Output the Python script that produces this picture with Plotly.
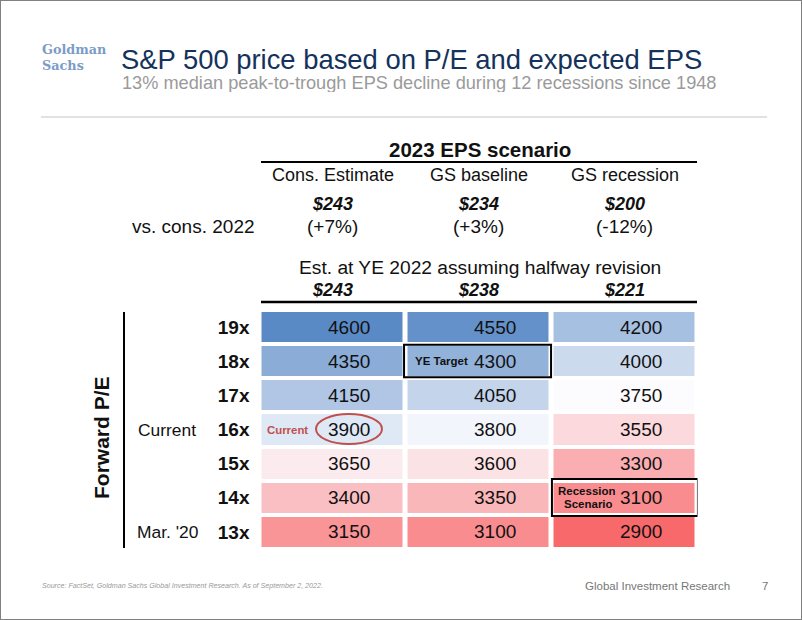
import plotly.graph_objects as go

# ---------------- data ----------------
pe_labels = ["19x", "18x", "17x", "16x", "15x", "14x", "13x"]
scenarios = ["Cons. Estimate", "GS baseline", "GS recession"]
eps_2023 = ["$243", "$234", "$200"]
vs_cons_2022 = ["(+7%)", "(+3%)", "(-12%)"]
eps_ye_2022 = ["$243", "$238", "$221"]
cons_estimate = [4600, 4350, 4150, 3900, 3650, 3400, 3150]
gs_baseline = [4550, 4300, 4050, 3800, 3600, 3350, 3100]
gs_recession = [4200, 4000, 3750, 3550, 3300, 3100, 2900]
side_labels = {"16x": "Current", "13x": "Mar. '20"}

W, H = 802, 620
FONT = "Arial, Liberation Sans, sans-serif"
LOGO_FONT = "DejaVu Serif, serif"


def px(x):
    return x / W


def py(y):
    return 1 - y / H


cols = [cons_estimate, gs_baseline, gs_recession]
z = [[c[i] for c in cols] for i in range(len(pe_labels))]
xs = list(range(len(scenarios)))
ys = list(range(len(pe_labels)))

fig = go.Figure()
fig.add_trace(go.Heatmap(
    z=z, x=xs, y=ys,
    colorscale=[[0, "#F8696B"], [0.5, "#FCFCFF"], [1, "#5A8AC6"]],
    zmin=min(min(c) for c in cols), zmax=max(max(c) for c in cols),
    xgap=5, ygap=4, showscale=False, hoverinfo="skip",
))

ann = []
# cell values
for i in ys:
    for j in xs:
        ann.append(dict(x=j, y=i, xref="x", yref="y", text=str(z[i][j]),
                        xshift=16,
                        font=dict(family=FONT, size=19, color="#111")))

# column headers
for j in xs:
    ann.append(dict(x=j, y=py(175), xref="x", text=scenarios[j],
                    font=dict(family=FONT, size=18, color="#111")))
    ann.append(dict(x=j, y=py(204), xref="x", text="<b><i>%s</i></b>" % eps_2023[j],
                    font=dict(family=FONT, size=18, color="#111")))
    ann.append(dict(x=j, y=py(226), xref="x", text=vs_cons_2022[j],
                    font=dict(family=FONT, size=19, color="#111")))
    ann.append(dict(x=j, y=py(290), xref="x", text="<b><i>%s</i></b>" % eps_ye_2022[j],
                    font=dict(family=FONT, size=18, color="#111")))

ann += [
    dict(x=px(480), y=py(149), text="<b>2023 EPS scenario</b>",
         font=dict(family=FONT, size=20.5, color="#111")),
    dict(x=px(257), y=py(226), xanchor="right", text="vs. cons. 2022",
         font=dict(family=FONT, size=19, color="#111")),
    dict(x=px(480), y=py(267), text="Est. at YE 2022 assuming halfway revision",
         font=dict(family=FONT, size=19.2, color="#111")),
    dict(x=px(101), y=py(438), text="<b>Forward P/E</b>", textangle=-90,
         font=dict(family=FONT, size=21, color="#111")),
    # title block
    dict(x=px(120), y=py(59.5), xanchor="left", height=29, borderpad=0,
         text="S&P 500 price based on P/E and expected EPS",
         font=dict(family=FONT, size=27.4, color="#14325c")),
    dict(x=px(121), y=py(83), xanchor="left", height=18, borderpad=0,
         text="13% median peak-to-trough EPS decline during 12 recessions since 1948",
         font=dict(family=FONT, size=18.2, color="#9a9a9a")),
    dict(x=px(41), y=py(49.8), xanchor="left", height=15, borderpad=0, text="<b>Goldman</b>",
         font=dict(family=LOGO_FONT, size=12.8, color="#7b9cc8")),
    dict(x=px(41), y=py(65.2), xanchor="left", height=15, borderpad=0, text="<b>Sachs</b>",
         font=dict(family=LOGO_FONT, size=12.8, color="#7b9cc8")),
    # footer
    dict(x=px(40), y=py(586), xanchor="left",
         text="<i>Source: FactSet, Goldman Sachs Global Investment Research. As of September 2, 2022.</i>",
         font=dict(family=FONT, size=7.1, color="#999")),
    dict(x=px(732), y=py(586), xanchor="right", text="Global Investment Research",
         font=dict(family=FONT, size=11.5, color="#777")),
    dict(x=px(765), y=py(586), text="7",
         font=dict(family=FONT, size=11.5, color="#777")),
    # call-outs
    dict(x=0, y=3, xref="x", yref="y", xshift=-45, text="<b>Current</b>",
         font=dict(family=FONT, size=11.4, color="#C0504D")),
    dict(x=1, y=1, xref="x", yref="y", xshift=-37.5, text="<b>YE Target</b>",
         font=dict(family=FONT, size=11.5, color="#111")),
    dict(x=2, y=5, xref="x", yref="y", xshift=-37.5, yshift=7, height=13, borderpad=0,
         text="<b>Recession</b>", font=dict(family=FONT, size=11.5, color="#111")),
    dict(x=2, y=5, xref="x", yref="y", xshift=-36.5, yshift=-6, height=13, borderpad=0,
         text="<b>Scenario</b>", font=dict(family=FONT, size=11.5, color="#111")),
]
for k, lab in side_labels.items():
    ann.append(dict(x=px(167), y=pe_labels.index(k), xref="paper", yref="y", text=lab,
                    font=dict(family=FONT, size=17.4, color="#111")))
for a in ann:
    a.setdefault("showarrow", False)
    a.setdefault("xref", "paper")
    a.setdefault("yref", "paper")
    a.setdefault("xanchor", "center")
    a.setdefault("yanchor", "middle")

shapes = [
    dict(type="rect", xref="paper", yref="paper", x0=0, x1=1, y0=0, y1=1,
         line=dict(color="#808080", width=2)),
    dict(type="line", xref="paper", yref="paper", x0=px(41), x1=px(767), y0=py(117), y1=py(117),
         line=dict(color="#e2e2e2", width=2)),
    dict(type="line", xref="paper", yref="paper", x0=px(261), x1=px(697), y0=py(162), y1=py(162),
         line=dict(color="#000", width=2)),
    dict(type="line", xref="paper", yref="paper", x0=px(261), x1=px(697), y0=py(302), y1=py(302),
         line=dict(color="#000", width=2.5)),
    dict(type="line", xref="paper", yref="paper", x0=px(124), x1=px(124), y0=py(312), y1=py(548),
         line=dict(color="#000", width=2)),
    dict(type="rect", xref="x", yref="y", x0=0.49, x1=1.497, y0=0.52, y1=1.47,
         line=dict(color="#000", width=2)),
    dict(type="rect", xref="x", yref="y", x0=1.503, x1=2.503, y0=4.45, y1=5.53,
         line=dict(color="#000", width=2)),
    dict(type="circle", xref="x", yref="y", x0=-0.113, x1=0.339, y0=2.546, y1=3.425,
         line=dict(color="#C0504D", width=2)),
]

fig.update_layout(
    width=W, height=H, margin=dict(l=0, r=0, t=0, b=0),
    paper_bgcolor="white", plot_bgcolor="white",
    xaxis=dict(domain=[px(259.5), px(697.5)], range=[-0.5, 2.5], showticklabels=False,
               showgrid=False, zeroline=False, fixedrange=True, automargin=False),
    yaxis=dict(domain=[py(549), py(310)], range=[6.5, -0.5], tickvals=ys,
               ticktext=["<b>%s</b>" % p for p in pe_labels], ticks="", ticklabelstandoff=9,
               tickfont=dict(family=FONT, size=19, color="#111"),
               showgrid=False, zeroline=False, fixedrange=True, automargin=False),
    annotations=ann, shapes=shapes, showlegend=False,
)

fig.write_html("out.html", config={"displayModeBar": False},
               post_script="document.body.style.margin='0';document.body.style.overflow='hidden';")
